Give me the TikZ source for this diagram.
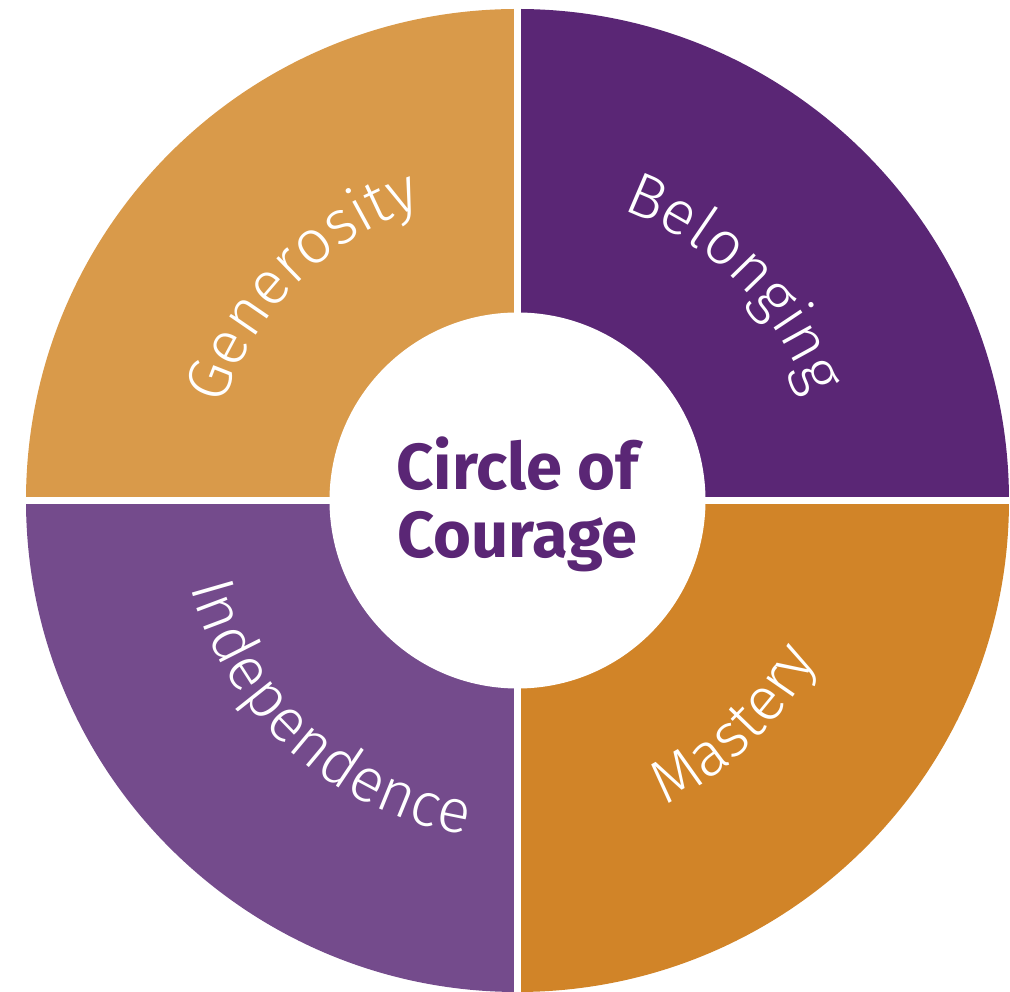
\documentclass[tikz,border=0pt]{standalone}
\usepackage{fontspec}
\setmainfont{Fira Sans}
\newfontfamily\cclight{Fira Sans Light}
\usetikzlibrary{decorations.text}
\definecolor{cc_gold}{RGB}{217,154,74}
\definecolor{cc_plum}{RGB}{90,38,117}
\definecolor{cc_violet}{RGB}{116,75,140}
\definecolor{cc_amber}{RGB}{209,132,40}
\newcommand{\cclabel}{\cclight\fontsize{35}{38}\selectfont}
\tikzstyle{title}=[text=cc_plum,inner sep=0pt,
  font=\bfseries\fontsize{37}{39}\selectfont]
\tikzstyle{gap}=[white,line width=1.4mm]
\tikzstyle{arclabel}=[decorate,decoration={text along path,
  text align=center,text color=white}]

\begin{document}
\begin{tikzpicture}[x=0.2mm,y=0.2mm]
    \useasboundingbox (-517.5,-491.5) rectangle (492.5,500.5);
    % quarters of the ring
    \fill[cc_gold] (0,0) -- (180:491.5) arc[start angle=180,end angle=90,radius=491.5] -- cycle;
    \fill[cc_plum] (0,0) -- (90:491.5) arc[start angle=90,end angle=0,radius=491.5] -- cycle;
    \fill[cc_amber] (0,0) -- (0:491.5) arc[start angle=0,end angle=-90,radius=491.5] -- cycle;
    \fill[cc_violet] (0,0) -- (-90:491.5) arc[start angle=-90,end angle=-180,radius=491.5] -- cycle;
    \draw[gap] (-495,0) -- (495,0);
    \draw[gap] (0,-495) -- (0,495);
    \fill[white] (0,0) circle[radius=188];
    % labels on the ring
    \path[arclabel,decoration={text={|\cclabel|Generosity}}]
      (180:309) arc[start angle=180,end angle=90,radius=309];
    \path[arclabel,decoration={text={|\cclabel|Belonging}}]
      (90:309) arc[start angle=90,end angle=0,radius=309];
    \path[arclabel,decoration={text={|\cclabel|Mastery}}]
      (-91:338) arc[start angle=-91,end angle=-1,radius=338];
    \path[arclabel,decoration={text={|\cclabel|Independence}}]
      (183:338) arc[start angle=183,end angle=273,radius=338];
    % centre
    \node[title,anchor=base] (circle) at (0,10.5) {Circle of};
    \node[title,anchor=base] (courage) at (0,-57.5) {Courage};
\end{tikzpicture}
\end{document}
